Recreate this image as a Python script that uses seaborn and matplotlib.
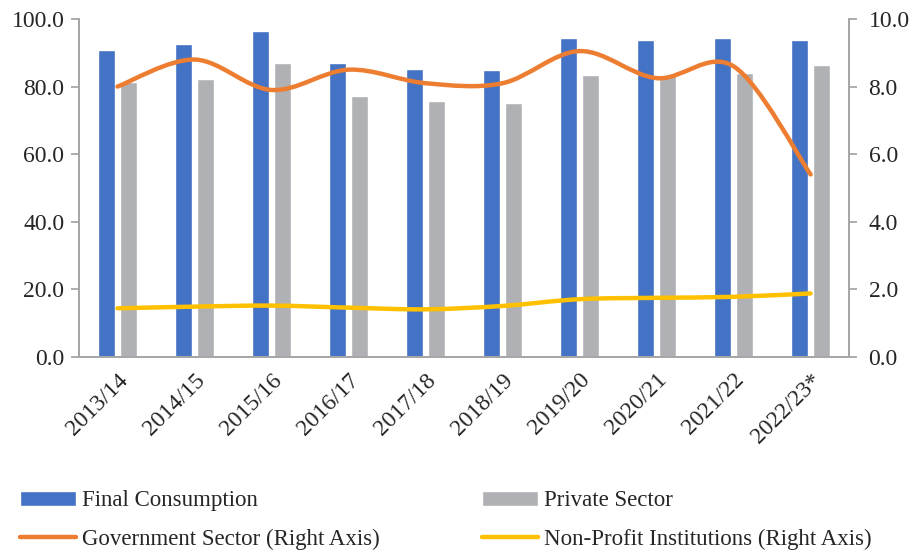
import numpy as np
import pandas as pd
import matplotlib.pyplot as plt
import seaborn as sns
from matplotlib.path import Path
from matplotlib.patches import PathPatch, Patch
from matplotlib.lines import Line2D
from matplotlib.ticker import FormatStrFormatter

years = ["2013/14", "2014/15", "2015/16", "2016/17", "2017/18",
         "2018/19", "2019/20", "2020/21", "2021/22", "2022/23*"]
final_consumption = [90.7, 92.5, 96.4, 87.1, 85.3, 84.8, 94.3, 93.7, 94.3, 93.7]
private_sector = [81.4, 82.2, 87.0, 77.1, 75.8, 75.1, 83.5, 83.3, 84.0, 86.3]
government = [8.0, 8.8, 7.9, 8.5, 8.1, 8.1, 9.05, 8.25, 8.6, 5.4]
non_profit = [1.44, 1.49, 1.52, 1.46, 1.41, 1.51, 1.71, 1.75, 1.78, 1.88]

BLUE = "#4472C4"
GREY = "#B0B1B4"
ORANGE = "#ED7D31"
YELLOW = "#FFC000"
AXIS = "#A6A6A6"

sns.set_style("white")
plt.rcParams["font.family"] = ["Liberation Serif", "DejaVu Serif"]


def smooth_path(ys):
    # Excel-style smoothed line: cubic Bezier through every data point
    pts = np.column_stack([np.arange(len(ys)), ys]).astype(float)
    ext = np.vstack([pts[0], pts, pts[-1]])
    verts = [pts[0]]
    codes = [Path.MOVETO]
    for i in range(len(pts) - 1):
        p0, p1, p2, p3 = ext[i], ext[i + 1], ext[i + 2], ext[i + 3]
        verts += [p1 + (p2 - p0) / 6, p2 - (p3 - p1) / 6, p2]
        codes += [Path.CURVE4] * 3
    return Path(verts, codes)


df = pd.DataFrame({
    "year": years * 2,
    "value": final_consumption + private_sector,
    "series": ["Final Consumption"] * len(years) + ["Private Sector"] * len(years),
})

fig, ax = plt.subplots(figsize=(9.15, 5.52), dpi=100)
fig.subplots_adjust(left=0.0863, right=0.928, top=0.9656, bottom=0.3533)

sns.barplot(data=df, x="year", y="value", hue="series",
            palette={"Final Consumption": BLUE, "Private Sector": GREY},
            width=0.57, gap=0.23, saturation=1, legend=False, ax=ax)

ax.set_xlim(-0.5, len(years) - 0.5)
ax.set_ylim(0, 100)
ax.set_yticks(np.arange(0, 101, 20))
ax.yaxis.set_major_formatter(FormatStrFormatter("%.1f"))
ax.set_xlabel("")
ax.set_ylabel("")
ax.set_xticks(range(len(years)))
ax.set_xticklabels(years, rotation=45, ha="right", rotation_mode="anchor")
ax.set_xticks(np.arange(-0.5, len(years)), minor=True)
ax.tick_params(axis="x", which="major", length=0, labelsize=17, pad=9)
ax.tick_params(axis="x", which="minor", length=5.5, color=AXIS, width=1.3, direction="out")
ax.tick_params(axis="y", length=5.5, color=AXIS, width=1.3, labelsize=17, pad=5, left=True)

ax2 = ax.twinx()
ax2.set_ylim(0, 10)
ax2.set_yticks(np.arange(0, 10.1, 2))
ax2.yaxis.set_major_formatter(FormatStrFormatter("%.1f"))
ax2.tick_params(axis="y", length=6, color=AXIS, width=1.3, labelsize=17, pad=8, right=True)

for axis in (ax, ax2):
    axis.spines["top"].set_visible(False)
    for side in ("left", "right", "bottom"):
        axis.spines[side].set_color(AXIS)
        axis.spines[side].set_linewidth(1.3)

for ys, color in ((government, ORANGE), (non_profit, YELLOW)):
    ax2.add_patch(PathPatch(smooth_path(ys), facecolor="none", edgecolor=color,
                            linewidth=3.2, capstyle="round", joinstyle="round"))

# legend fills column by column, so order handles to give the reference rows
handles = [
    Patch(facecolor=BLUE, label="Final Consumption"),
    Line2D([], [], color=ORANGE, linewidth=3.2, label="Government Sector (Right Axis)"),
    Patch(facecolor=GREY, label="Private Sector"),
    Line2D([], [], color=YELLOW, linewidth=3.2, label="Non-Profit Institutions (Right Axis)"),
]
fig.legend(handles=handles, ncol=2, loc="lower left", bbox_to_anchor=(0.022, 0.004),
           frameon=False, fontsize=16.5, handlelength=2.45, handleheight=0.6,
           handletextpad=0.25, columnspacing=4.47, labelspacing=0.75,
           borderpad=0, borderaxespad=0)

fig.savefig("out.png", dpi=100)
